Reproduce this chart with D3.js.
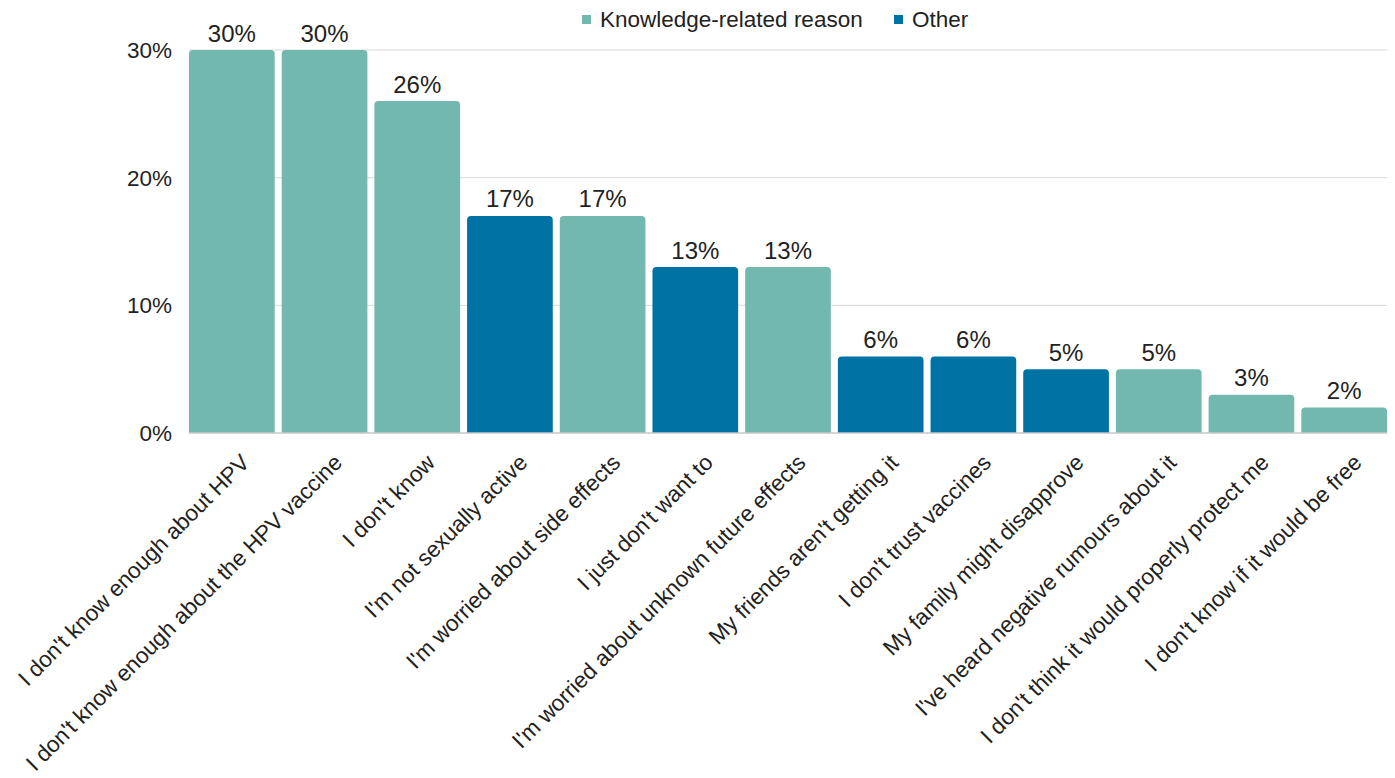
<!DOCTYPE html>
<html>
<head>
<meta charset="utf-8">
<script src="https://cdn.jsdelivr.net/npm/d3@7/dist/d3.min.js"></script>
<style>
  html, body { margin: 0; padding: 0; background: #fff; }
  svg { display: block; font-family: "Liberation Sans", Arial, sans-serif; }
</style>
</head>
<body>
<svg id="chart" width="1395" height="778"></svg>
<script>
// Reasons for not getting the HPV vaccine
const categories = [
  "I don't know enough about HPV",
  "I don't know enough about the HPV vaccine",
  "I don't know",
  "I'm not sexually active",
  "I'm worried about side effects",
  "I just don't want to",
  "I'm worried about unknown future effects",
  "My friends aren't getting it",
  "I don't trust vaccines",
  "My family might disapprove",
  "I've heard negative rumours about it",
  "I don't think it would properly protect me",
  "I don't know if it would be free"
];
const values = [30, 30, 26, 17, 17, 13, 13, 6, 6, 5, 5, 3, 2];
const groups = ["Knowledge", "Knowledge", "Knowledge", "Other", "Knowledge", "Other",
                "Knowledge", "Other", "Other", "Other", "Knowledge", "Knowledge", "Knowledge"];
const legendLabels = ["Knowledge-related reason", "Other"];
const yTicks = [0, 10, 20, 30];

const colors = { Knowledge: "#72b8ae", Other: "#0072a3" };

const svg = d3.select("#chart");
const margin = { left: 185.5, right: 4.5, top: 50, bottom: 345 };
const W = 1395, H = 778;

const x = d3.scaleBand()
  .domain(categories)
  .range([margin.left, W - margin.right])
  .paddingInner(0.0755)
  .paddingOuter(0.0378);

const y = d3.scaleLinear().domain([0, 30]).range([H - margin.bottom, margin.top]);

const plotLeft = x(categories[0]);
const plotRight = x(categories[categories.length - 1]) + x.bandwidth();

// gridlines
svg.append("g")
  .selectAll("line")
  .data(yTicks.filter(d => d > 0))
  .join("line")
  .attr("x1", plotLeft).attr("x2", plotRight)
  .attr("y1", d => y(d)).attr("y2", d => y(d))
  .attr("stroke", "#d9d9d9").attr("stroke-width", 1);

// y tick labels
svg.append("g")
  .selectAll("text")
  .data(yTicks)
  .join("text")
  .attr("x", 172)
  .attr("y", d => y(d))
  .attr("dy", "0.35em")
  .attr("text-anchor", "end")
  .attr("font-size", 22.5)
  .attr("fill", "#222")
  .text(d => d + "%");

// bars with rounded top corners
const r = 4;
function barPath(d, i) {
  const x0 = x(categories[i]), w = x.bandwidth();
  const y0 = y(d), yb = y(0);
  return `M${x0},${yb} V${y0 + r} Q${x0},${y0} ${x0 + r},${y0} H${x0 + w - r} Q${x0 + w},${y0} ${x0 + w},${y0 + r} V${yb} Z`;
}
svg.append("g")
  .selectAll("path")
  .data(values)
  .join("path")
  .attr("d", barPath)
  .attr("fill", (d, i) => colors[groups[i]]);

// baseline
svg.append("line")
  .attr("x1", plotLeft).attr("x2", plotRight)
  .attr("y1", y(0)).attr("y2", y(0))
  .attr("stroke", "#c8c8c8").attr("stroke-width", 1.5);

// value labels
svg.append("g")
  .selectAll("text")
  .data(values)
  .join("text")
  .attr("x", (d, i) => x(categories[i]) + x.bandwidth() / 2)
  .attr("y", d => y(d) - 8.5)
  .attr("text-anchor", "middle")
  .attr("font-size", 24)
  .attr("fill", "#222")
  .text(d => d + "%");

// category labels, rotated
svg.append("g")
  .selectAll("text")
  .data(categories)
  .join("text")
  .attr("transform", d => `translate(${x(d) + x.bandwidth() / 2 + 19},${y(0) + 31}) rotate(-45)`)
  .attr("text-anchor", "end")
  .attr("font-size", 22.5)
  .attr("fill", "#222")
  .text(d => d);

// legend
const legend = svg.append("g");
const legendPos = [582, 894];
legendLabels.forEach((lab, i) => {
  const g = legend.append("g").attr("transform", `translate(${legendPos[i]},19.5)`);
  g.append("rect").attr("x", 0).attr("y", -4.5).attr("width", 9).attr("height", 9)
    .attr("fill", i === 0 ? colors.Knowledge : colors.Other);
  g.append("text").attr("x", 18).attr("y", 0).attr("dy", "0.35em")
    .attr("font-size", 22.5).attr("fill", "#222").text(lab);
});
</script>
</body>
</html>
